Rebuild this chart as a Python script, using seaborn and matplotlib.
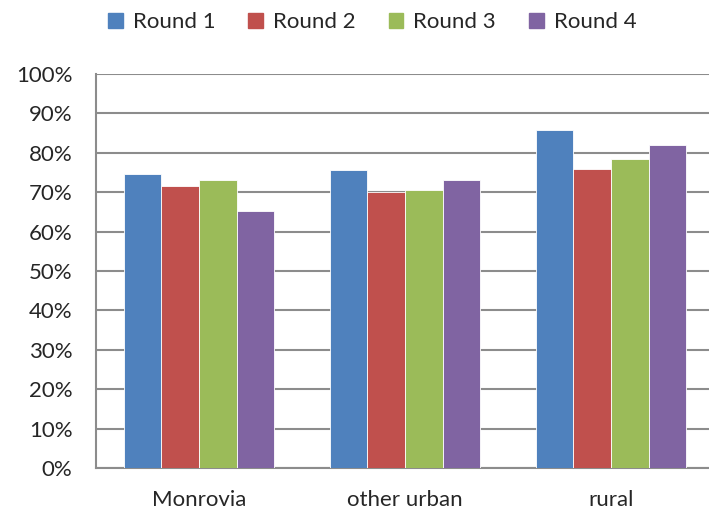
import pandas as pd
import matplotlib
matplotlib.use("Agg")
import matplotlib.pyplot as plt
import seaborn as sns
from matplotlib.ticker import MultipleLocator, PercentFormatter, FixedLocator

# values (share, 0-1)
areas = ["Monrovia", "other urban", "rural"]
rounds = ["Round 1", "Round 2", "Round 3", "Round 4"]
round_1 = [0.746, 0.757, 0.859]
round_2 = [0.717, 0.701, 0.758]
round_3 = [0.732, 0.706, 0.783]
round_4 = [0.653, 0.731, 0.819]
colors = ["#4F81BD", "#C0504D", "#9BBB59", "#8064A2"]

rows = []
for rnd, vals in zip(rounds, [round_1, round_2, round_3, round_4]):
    for area, v in zip(areas, vals):
        rows.append({"area": area, "round": rnd, "share": v})
df = pd.DataFrame(rows)

sns.set_style("white")
plt.rcParams["font.family"] = ["Lato", "DejaVu Sans"]

fig = plt.figure(figsize=(7.09, 5.13), dpi=100)
ax = fig.add_axes([96 / 709, 1 - 468 / 513, (714 - 96) / 709, (468 - 74) / 513])

sns.barplot(data=df, x="area", y="share", hue="round", order=areas,
            hue_order=rounds, palette=colors, width=0.73, gap=0,
            saturation=1, edgecolor="white", linewidth=0.6, ax=ax,
            legend=False, zorder=3)

ax.set_xlim(-0.5, 2.5)
ax.set_ylim(0, 1)
ax.yaxis.set_major_locator(MultipleLocator(0.1))
ax.yaxis.set_major_formatter(PercentFormatter(1.0, decimals=0))
ax.grid(axis="y", color="#8c8c8c", linewidth=1.5, zorder=0)
ax.set_axisbelow(True)

ax.set_xlabel("")
ax.set_ylabel("")
ax.xaxis.set_minor_locator(FixedLocator([-0.5, 0.5, 1.5, 2.5]))
ax.tick_params(axis="x", which="major", length=0, pad=16, labelsize=16)
ax.tick_params(axis="x", which="minor", length=7, width=1.5, color="#8c8c8c")
ax.tick_params(axis="y", length=6, width=1.5, color="#8c8c8c", labelsize=16, pad=11)

for side in ["top", "right"]:
    ax.spines[side].set_visible(False)
for side in ["left", "bottom"]:
    ax.spines[side].set_color("#8c8c8c")
    ax.spines[side].set_linewidth(1.5)

handles = [plt.Rectangle((0, 0), 1, 1, color=c) for c in colors]
fig.legend(handles, rounds, loc="upper center", bbox_to_anchor=(0.525, 1.015),
           ncol=4, frameon=False, fontsize=16, handlelength=0.65,
           handleheight=0.65, handletextpad=0.45, columnspacing=1.5)

fig.savefig("out.png", dpi=100)
